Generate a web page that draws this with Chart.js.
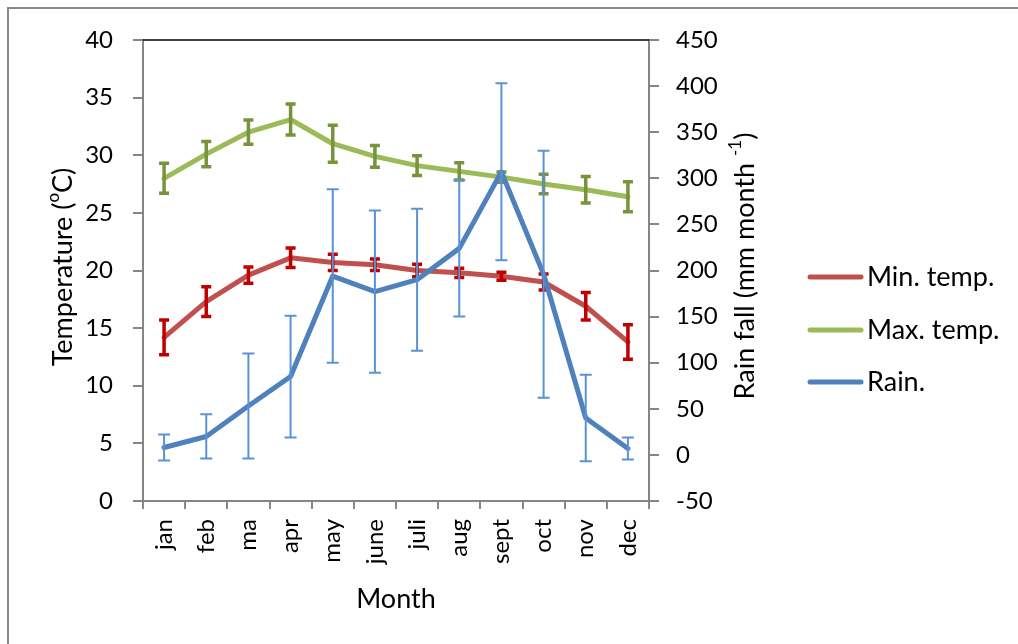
<!DOCTYPE html>
<html>
<head>
<meta charset="utf-8">
<script src="https://cdn.jsdelivr.net/npm/chart.js@4.4.1/dist/chart.umd.min.js"></script>
<style>
  html, body { margin: 0; padding: 0; background: #fff; }
  #wrap { position: relative; width: 1018px; height: 644px; overflow: hidden; }
  #frame { position: absolute; left: 7px; top: 7px; width: 1100px; height: 700px;
           border-left: 2px solid #898989; border-top: 2px solid #898989; }
  #chart { position: absolute; left: 0; top: 0; }
</style>
</head>
<body>
<div id="wrap">
  <div id="frame"></div>
  <canvas id="chart" width="1018" height="644"></canvas>
</div>
<script>
const months = ['jan', 'feb', 'ma', 'apr', 'may', 'june', 'juli', 'aug', 'sept', 'oct', 'nov', 'dec'];

// temperatures (left axis, °C)
const minTemp    = [14.2, 17.3, 19.6, 21.1, 20.7, 20.5, 20.0, 19.8, 19.5, 19.0, 16.9, 13.8];
const minTempErr = [1.5, 1.3, 0.7, 0.85, 0.7, 0.5, 0.55, 0.4, 0.35, 0.7, 1.2, 1.5];
const maxTemp    = [28.0, 30.1, 32.0, 33.1, 31.0, 29.9, 29.1, 28.6, 28.1, 27.5, 27.0, 26.4];
const maxTempErr = [1.3, 1.1, 1.05, 1.35, 1.6, 0.95, 0.85, 0.75, 0.45, 0.85, 1.15, 1.3];

// rain fall (right axis, mm/month)
const rain    = [8, 20, 53, 85, 194, 177, 190, 224, 307, 196, 40, 7];
const rainErr = [14, 24, 57, 66, 94, 88, 77, 74, 96, 134, 47, 12];

const FONT = 'Lato, "Open Sans", sans-serif';
const FSIZE = 24;   // tick labels
const TSIZE = 27;   // titles + legend
const SSIZE = 17;   // superscripts

// error bars, drawn right after each line
const errorBars = {
  id: 'errorBars',
  afterDatasetDraw(chart, args) {
    const ds = chart.data.datasets[args.index];
    if (!ds.err) return;
    const meta = args.meta;
    const scale = chart.scales[meta.yAxisID];
    const ctx = chart.ctx;
    ctx.save();
    ctx.strokeStyle = ds.errColor;
    ctx.lineWidth = ds.errWidth;
    meta.data.forEach((pt, i) => {
      const v = ds.data[i], e = ds.err[i];
      const yTop = scale.getPixelForValue(v + e);
      const yBot = scale.getPixelForValue(v - e);
      const x = pt.x, c = ds.capHalf;
      ctx.beginPath();
      ctx.moveTo(x, yTop); ctx.lineTo(x, yBot);
      ctx.moveTo(x - c, yTop); ctx.lineTo(x + c, yTop);
      ctx.moveTo(x - c, yBot); ctx.lineTo(x + c, yBot);
      ctx.stroke();
    });
    ctx.restore();
  }
};

// draw text with superscript parts, centred on (x, y), rotated
function richText(ctx, parts, x, y, rot) {
  ctx.save();
  ctx.translate(x, y);
  ctx.rotate(rot);
  ctx.textBaseline = 'middle';
  ctx.textAlign = 'left';
  let w = 0;
  parts.forEach(p => {
    ctx.font = (p.sup ? SSIZE : TSIZE) + 'px ' + FONT;
    w += ctx.measureText(p.t).width;
  });
  let cx = -w / 2;
  parts.forEach(p => {
    ctx.font = (p.sup ? SSIZE : TSIZE) + 'px ' + FONT;
    ctx.fillStyle = '#000';
    ctx.fillText(p.t, cx, p.sup ? -9 : 0);
    cx += ctx.measureText(p.t).width;
  });
  ctx.restore();
}

const extras = {
  id: 'extras',
  afterDraw(chart) {
    const ctx = chart.ctx;
    const a = chart.chartArea;
    ctx.save();
    // black top edge of plot area
    ctx.strokeStyle = '#000';
    ctx.lineWidth = 1.5;
    ctx.beginPath();
    ctx.moveTo(a.left, a.top);
    ctx.lineTo(a.right, a.top);
    ctx.stroke();

    richText(ctx, [{ t: 'Temperature (' }, { t: 'o', sup: true }, { t: 'C)' }], 63, 267, -Math.PI / 2);
    richText(ctx, [{ t: 'Rain fall (mm month ' }, { t: '-1', sup: true }, { t: ')' }], 745, 266, -Math.PI / 2);
    richText(ctx, [{ t: 'Month' }], (a.left + a.right) / 2, 599, 0);

    // legend
    const items = chart.data.datasets;
    const rows = [277, 330, 382];
    items.forEach((ds, i) => {
      const y = rows[i];
      ctx.strokeStyle = ds.borderColor;
      ctx.lineWidth = 5;
      ctx.lineCap = 'round';
      ctx.beginPath();
      ctx.moveTo(810, y);
      ctx.lineTo(861, y);
      ctx.stroke();
      ctx.fillStyle = '#000';
      ctx.font = TSIZE + 'px ' + FONT;
      ctx.textBaseline = 'middle';
      ctx.textAlign = 'left';
      ctx.fillText(ds.label, 867, y);
    });
    ctx.restore();
  }
};

const axisGrey = '#868686';

new Chart(document.getElementById('chart').getContext('2d'), {
  type: 'line',
  data: {
    labels: months,
    datasets: [
      {
        label: 'Min. temp.', data: minTemp, yAxisID: 'y', order: 3,
        borderColor: '#C0504D', err: minTempErr, errColor: '#C00000', errWidth: 3.5, capHalf: 5
      },
      {
        label: 'Max. temp.', data: maxTemp, yAxisID: 'y', order: 2,
        borderColor: '#9BBB59', err: maxTempErr, errColor: '#77933C', errWidth: 3.5, capHalf: 5
      },
      {
        label: 'Rain.', data: rain, yAxisID: 'y1', order: 1,
        borderColor: '#4F81BD', err: rainErr, errColor: '#5A92D8', errWidth: 2, capHalf: 6
      }
    ]
  },
  options: {
    responsive: false,
    animation: false,
    layout: { padding: { top: 40, left: 0, right: 0, bottom: 0 } },
    elements: {
      line: { borderWidth: 5, tension: 0, borderCapStyle: 'round', borderJoinStyle: 'round', fill: false },
      point: { radius: 0, hoverRadius: 0 }
    },
    plugins: { legend: { display: false }, tooltip: { enabled: false } },
    scales: {
      x: {
        type: 'category',
        offset: true,
        grid: { offset: true, drawOnChartArea: false, drawTicks: true, tickLength: 8, color: axisGrey, lineWidth: 2 },
        border: { color: axisGrey, width: 2 },
        ticks: { minRotation: 90, maxRotation: 90, padding: 10, color: '#000', font: { family: FONT, size: FSIZE } },
        afterFit(s) { s.height = 143; }
      },
      y: {
        position: 'left',
        min: 0, max: 40,
        grid: { drawOnChartArea: false, drawTicks: true, tickLength: 10, color: axisGrey, lineWidth: 2 },
        border: { color: axisGrey, width: 2 },
        ticks: { stepSize: 5, padding: 20, color: '#000', font: { family: FONT, size: FSIZE } },
        afterFit(s) { s.width = 143; }
      },
      y1: {
        position: 'right',
        min: -50, max: 450,
        grid: { drawOnChartArea: false, drawTicks: true, tickLength: 10, color: axisGrey, lineWidth: 2 },
        border: { color: axisGrey, width: 2 },
        ticks: { stepSize: 50, padding: 17, color: '#000', font: { family: FONT, size: FSIZE } },
        afterFit(s) { s.width = 369; }
      }
    }
  },
  plugins: [errorBars, extras]
});
</script>
</body>
</html>
